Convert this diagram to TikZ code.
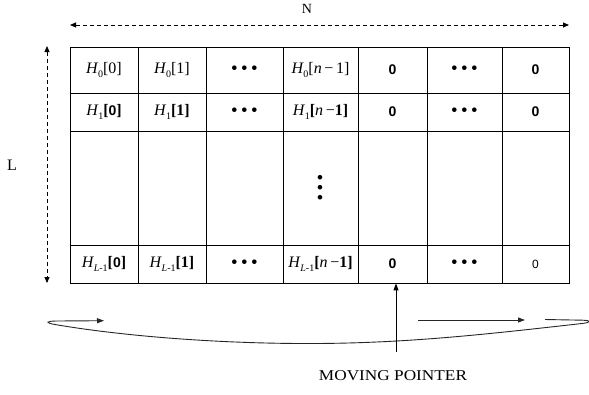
\documentclass[tikz,border=0pt]{standalone}
\usepackage{fontspec}
\setmainfont{Liberation Serif}
\setsansfont{Liberation Sans}
\usetikzlibrary{arrows.meta}
% H with a lowered subscript
\newcommand\Hsub[1]{\textit{H}\kern-0.3pt\raisebox{-0.45ex}{\fontsize{10}{10}\selectfont #1}}
\newcommand\bz{\textsf{\bfseries\fontsize{14}{16}\selectfont 0}}
\newcommand\rowdots{\textsf{\bfseries\fontsize{16}{16}\selectfont • • •}}
\begin{document}
\begin{tikzpicture}[x=1pt,y=-1pt,
  cellbox/.style={draw, line width=0.8pt, inner sep=0pt, font=\fontsize{16}{18}\selectfont},
  wA/.style={minimum width=68pt}, wB/.style={minimum width=68pt},
  wC/.style={minimum width=77pt}, wD/.style={minimum width=75pt},
  wE/.style={minimum width=69pt}, wF/.style={minimum width=75pt},
  wG/.style={minimum width=67pt},
  hA/.style={minimum height=46pt}, hB/.style={minimum height=38pt},
  hC/.style={minimum height=114pt}, hD/.style={minimum height=38pt},
  dimarrow/.style={dashed, dash pattern=on 4pt off 3pt, line width=0.8pt,
    {Triangle[length=6pt,width=5pt]}-{Triangle[length=6pt,width=5pt]}},
  looparrow/.style={line width=0.9pt, black!85, -{Triangle[length=7pt,width=5pt]}},
  lbl/.style={inner sep=0pt}]
\useasboundingbox (0,0) rectangle (589,394);

% row 0
\node[cellbox,wA,hA] (c11) at (104,70) {\Hsub{0}[0]};
\node[cellbox,wB,hA] (c12) at (172,70) {\Hsub{0}[1]};
\node[cellbox,wC,hA] (c13) at (244.5,70) {\rowdots};
\node[cellbox,wD,hA] (c14) at (320.5,70) {\Hsub{0}[\textit{n}\,−\,1]};
\node[cellbox,wE,hA] (c15) at (392.5,70) {\bz};
\node[cellbox,wF,hA] (c16) at (464.5,70) {\rowdots};
\node[cellbox,wG,hA] (c17) at (535.5,70) {\bz};
% row 1
\node[cellbox,wA,hB] (c21) at (104,112) {\Hsub{1}\textbf{[}\bz\textbf{]}};
\node[cellbox,wB,hB] (c22) at (172,112) {\Hsub{1}\textbf{[1]}};
\node[cellbox,wC,hB] (c23) at (244.5,112) {\rowdots};
\node[cellbox,wD,hB] (c24) at (320.5,112) {\Hsub{1}\textbf{[}\textit{n}\,−\textbf{1]}};
\node[cellbox,wE,hB] (c25) at (392.5,112) {\bz};
\node[cellbox,wF,hB] (c26) at (464.5,112) {\rowdots};
\node[cellbox,wG,hB] (c27) at (535.5,112) {\bz};
% middle rows
\node[cellbox,wA,hC] (c31) at (104,188) {};
\node[cellbox,wB,hC] (c32) at (172,188) {};
\node[cellbox,wC,hC] (c33) at (244.5,188) {};
\node[cellbox,wD,hC] (c34) at (320.5,188) {\hspace{2pt}\rotatebox{90}{\rowdots}};
\node[cellbox,wE,hC] (c35) at (392.5,188) {};
\node[cellbox,wF,hC] (c36) at (464.5,188) {};
\node[cellbox,wG,hC] (c37) at (535.5,188) {};
% last row
\node[cellbox,wA,hD] (c41) at (104,264) {\Hsub{\textit{L}-1}\textbf{[}\bz\textbf{]}};
\node[cellbox,wB,hD] (c42) at (172,264) {\Hsub{\textit{L}-1}\textbf{[1]}};
\node[cellbox,wC,hD] (c43) at (244.5,264) {\rowdots};
\node[cellbox,wD,hD] (c44) at (320.5,264) {\Hsub{\textit{L}-1}\textbf{[}\textit{n}\,−\textbf{1]}};
\node[cellbox,wE,hD] (c45) at (392.5,264) {\bz};
\node[cellbox,wF,hD] (c46) at (464.5,264) {\rowdots};
\node[cellbox,wG,hD] (c47) at (535.5,264) {\textsf{\fontsize{12}{12}\selectfont 0}};

% dimension arrows
\coordinate (nl) at (70,25);
\coordinate (nr) at (569,25);
\draw[dimarrow] (nl) -- (nr);
\node[lbl, font=\fontsize{14}{14}\selectfont] (N) at (307,9) {N};
\coordinate (lt) at (47,46);
\coordinate (lb) at (47,283);
\draw[dimarrow] (lt) -- (lb);
\node[lbl, font=\fontsize{16}{16}\selectfont] (L) at (12,165) {L};

% circular sweep of the pointer
\coordinate (sr) at (545,319.5);
\coordinate (sl) at (104,320.7);
\draw[looparrow] (sr) -- (583,320.2) .. controls (592,320.6) and (591,322.6) .. (581,323.6)
  .. controls (480,335) and (400,344) .. (300,343.5)
  .. controls (200,343) and (110,334) .. (55,324.5)
  .. controls (45,322.8) and (46,321.2) .. (56,321) -- (sl);
\coordinate (ma) at (418,320);
\coordinate (mb) at (525,320);
\draw[looparrow] (ma) -- (mb);

% moving pointer
\coordinate (mp) at (396,352);
\draw[line width=1pt, -{Triangle[length=7pt,width=5pt]}] (mp) -- (mp |- c45.south);
\node[lbl] (mplabel) at (393,376)
  {\scalebox{1.15}[1]{\fontsize{15}{16}\selectfont MOVING POINTER}};
\end{tikzpicture}
\end{document}
